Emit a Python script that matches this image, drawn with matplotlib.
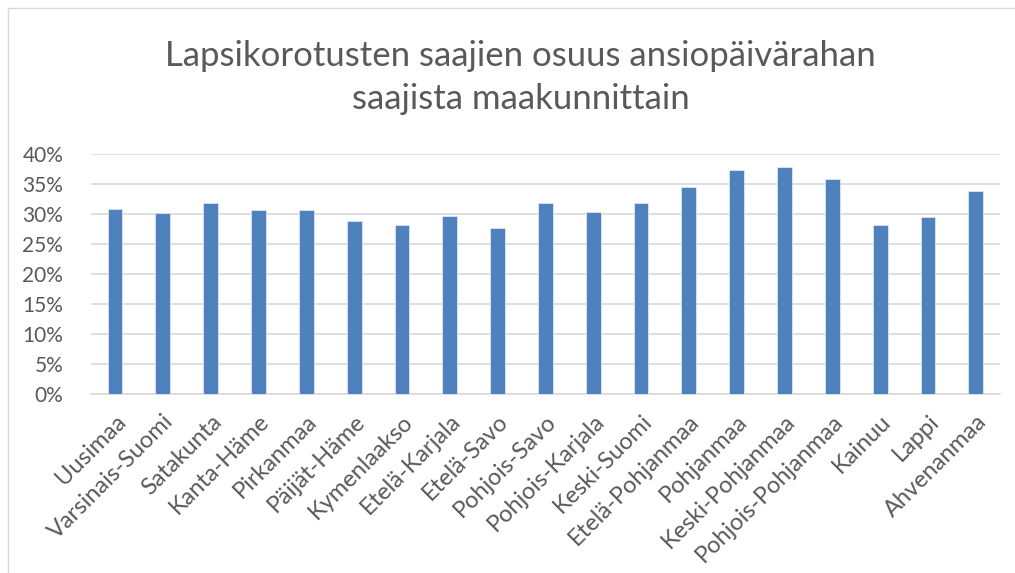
import matplotlib
matplotlib.use("Agg")
import matplotlib.pyplot as plt
from matplotlib.patches import Rectangle
from matplotlib.ticker import PercentFormatter

regions = ['Uusimaa', 'Varsinais-Suomi', 'Satakunta', 'Kanta-Häme', 'Pirkanmaa',
           'Päijät-Häme', 'Kymenlaakso', 'Etelä-Karjala', 'Etelä-Savo', 'Pohjois-Savo',
           'Pohjois-Karjala', 'Keski-Suomi', 'Etelä-Pohjanmaa', 'Pohjanmaa',
           'Keski-Pohjanmaa', 'Pohjois-Pohjanmaa', 'Kainuu', 'Lappi', 'Ahvenanmaa']
shares = [30.9, 30.2, 31.8, 30.6, 30.6, 28.8, 28.1, 29.7, 27.7, 31.9,
          30.3, 31.9, 34.5, 37.3, 37.8, 35.9, 28.1, 29.5, 33.9]
yticks = [0, 5, 10, 15, 20, 25, 30, 35, 40]

plt.rcParams['font.family'] = ['Lato', 'DejaVu Sans']
grey = '#595959'

fig = plt.figure(figsize=(10.15, 5.73), dpi=100)
ax = fig.add_axes([0.0897, 0.3124, 0.8953, 0.4188])

x = range(len(regions))
ax.bar(x, shares, width=0.31, color='#4f81bd', edgecolor='#dce6f2', linewidth=0.6, zorder=3)

ax.set_xlim(-0.5, len(regions) - 0.5)
ax.set_ylim(0, 40)
ax.set_yticks(yticks)
ax.yaxis.set_major_formatter(PercentFormatter(decimals=0))
ax.grid(axis='y', color='#d9d9d9', linewidth=1.2, zorder=0)
for s in ['top', 'right', 'left']:
    ax.spines[s].set_visible(False)
ax.spines['bottom'].set_color('#d9d9d9')
ax.spines['bottom'].set_linewidth(1.2)
ax.tick_params(axis='both', length=0, colors=grey)
ax.tick_params(axis='y', pad=20, labelsize=15)

ax.set_xticks(list(x))
ax.set_xticklabels(regions, rotation=45, ha='right', rotation_mode='anchor')
ax.tick_params(axis='x', pad=12, labelsize=17)

fig.text(0.513, 0.865, 'Lapsikorotusten saajien osuus ansiopäivärahan\nsaajista maakunnittain',
         ha='center', va='center', fontsize=25, color=grey, linespacing=1.45)

fig.patches.append(Rectangle((0.008, -0.01), 1.0, 0.996, transform=fig.transFigure,
                             fill=False, edgecolor='#d9d9d9', linewidth=1))

fig.savefig('out.png', dpi=100)
